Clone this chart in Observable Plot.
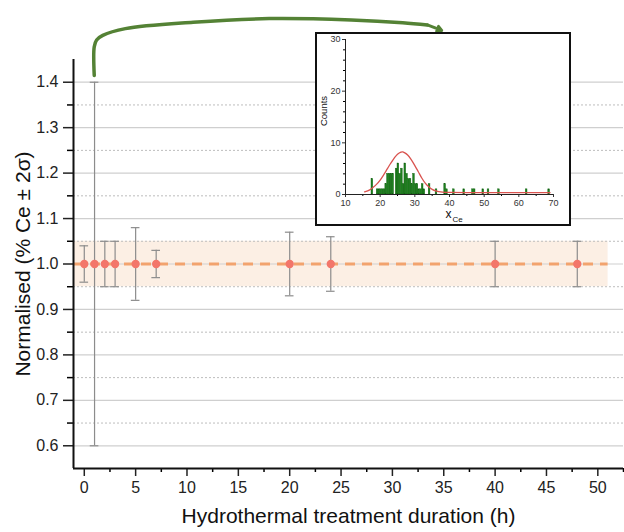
<!DOCTYPE html>
<html>
<head>
<meta charset="utf-8">
<script src="https://cdn.jsdelivr.net/npm/d3@7"></script>
<script src="https://cdn.jsdelivr.net/npm/@observablehq/plot@0.6"></script>
<style>
  html, body { margin: 0; padding: 0; background: #fff; }
  #wrap { position: relative; width: 624px; height: 532px; }
  #inset { position: absolute; left: 315px; top: 32px; width: 256px; height: 194px; box-sizing: border-box; border: 2px solid #111; background: #fff; }
  #inset svg { display: block; }
</style>
</head>
<body>
<div id="wrap"><div id="main"></div><div id="inset"></div></div>
<script>
// ---- main chart data ----
const hours = [0, 1, 2, 3, 5, 7, 20, 24, 40, 48];
const normValue = [1, 1, 1, 1, 1, 1, 1, 1, 1, 1];
const errLow  = [0.96, 0.60, 0.95, 0.95, 0.92, 0.97, 0.93, 0.94, 0.95, 0.95];
const errHigh = [1.04, 1.40, 1.05, 1.05, 1.08, 1.03, 1.07, 1.06, 1.05, 1.05];
const bandX = [-1.05, 51];
const bandY = [0.95, 1.05];
const yMajorTicks = [0.6, 0.7, 0.8, 0.9, 1.0, 1.1, 1.2, 1.3, 1.4];
const yMinorTicks = [0.65, 0.75, 0.85, 0.95, 1.05, 1.15, 1.25, 1.35, 1.45];
const xMajorTicks = [0, 5, 10, 15, 20, 25, 30, 35, 40, 45, 50];
const xMinorTicks = [2.5, 7.5, 12.5, 17.5, 22.5, 27.5, 32.5, 37.5, 42.5, 47.5, 52.5];
// annotation arrow path (data units of main chart)
const arrowX = [0.97, 0.97, 1.2, 1.8, 4, 10.6, 18, 26, 31, 33.4];
const arrowY = [1.415, 1.478, 1.493, 1.503, 1.518, 1.532, 1.540, 1.537, 1.531, 1.526];
const arrowHeadX = [33.4, 34.8];
const arrowHeadY = [1.526, 1.514];

// ---- inset histogram data ----
const binStart = [17.5,19,19.5,20,20.5,21,21.5,22,22.5,23,23.5,24.5,25,25.5,26,26.5,27,27.5,28,28.5,29,29.5,30,30.5,31,31.5,32,32.5,34,36,38.5,39,41,44,46.5,47,49.5,51,54,62,68.5];
const binCount = [3,1,1,1,1,1,2,4,4,4,4,5,6,4,5,2,6,4,3,3,2,4,2,2,1,1,2,1,2,1,2,1,1,1,1,1,1,1,1,1,1];
const binWidth = 0.5;
const fitX = [15.5,17,18,19,20,21,22,23,24,25,26,26.5,27,28,29,30,31,32,33,34,35,36,38,40,45,55,69];
const fitY = [0.5,0.9,1.4,2.0,2.8,3.8,4.9,6.0,7.0,7.8,8.2,8.25,8.1,7.6,6.7,5.6,4.4,3.2,2.2,1.5,1.0,0.7,0.45,0.4,0.35,0.35,0.35];
const insetXTicks = [10, 20, 30, 40, 50, 60, 70];
const insetXMinor = [15, 25, 35, 45, 55, 65];
const insetYTicks = [0, 10, 20, 30];
const insetYMinor = [2, 4, 6, 8, 12, 14, 16, 18, 22, 24, 26, 28];

const FONT = "'Liberation Sans', Arial, Helvetica, sans-serif";

const pts = hours.map((h, i) => ({x: h, y: normValue[i], lo: errLow[i], hi: errHigh[i]}));
const arrowPts = arrowX.map((x, i) => ({x, y: arrowY[i]}));

const main = Plot.plot({
  width: 624, height: 532,
  marginLeft: 73, marginRight: 1, marginTop: 59, marginBottom: 64,
  x: {domain: [-1.05, 52.5]},
  y: {domain: [0.55, 1.45]},
  style: {fontFamily: FONT, background: "white", overflow: "visible"},
  marks: [
    Plot.rect([0], {x1: () => bandX[0], x2: () => bandX[1], y1: () => bandY[0], y2: () => bandY[1], fill: "#fcefe4"}),
    Plot.ruleY(yMinorTicks.slice(0, -1), {stroke: "#bdbdbd", strokeWidth: 1, strokeDasharray: "2,2"}),
    Plot.ruleY(yMajorTicks, {stroke: "#cfcfcf", strokeWidth: 1.2}),
    Plot.ruleX(pts, {x: "x", y1: "lo", y2: "hi", stroke: "#8c8c8c", strokeWidth: 1.2}),
    Plot.ruleY(pts, {y: "lo", x1: d => d.x - 0.42, x2: d => d.x + 0.42, stroke: "#8c8c8c", strokeWidth: 1.2}),
    Plot.ruleY(pts, {y: "hi", x1: d => d.x - 0.42, x2: d => d.x + 0.42, stroke: "#8c8c8c", strokeWidth: 1.2}),
    Plot.ruleY([1], {x1: bandX[0], x2: bandX[1], stroke: "#f2a36e", strokeWidth: 3, strokeDasharray: "10,7"}),
    Plot.dot(pts, {x: "x", y: "y", r: 3.4, fill: "#f3766a", stroke: "#f3766a"}),
    Plot.line(arrowPts, {x: "x", y: "y", curve: "catmull-rom", stroke: "#548235", strokeWidth: 3.5}),
    Plot.arrow([0], {x1: () => arrowHeadX[0], y1: () => arrowHeadY[0], x2: () => arrowHeadX[1], y2: () => arrowHeadY[1], stroke: "#548235", strokeWidth: 3, headLength: 9}),
    Plot.axisY({ticks: yMajorTicks, tickFormat: d3.format(".1f"), tickSize: 10, tickPadding: 5, fontSize: 16, color: "#222", strokeWidth: 1.5, label: null}),
    Plot.axisY({ticks: yMinorTicks.slice(0, -1), tickFormat: () => "", tickSize: 6, strokeWidth: 1.5, label: null}),
    Plot.axisX({ticks: xMajorTicks, tickSize: 8, tickPadding: 5, fontSize: 16, color: "#222", strokeWidth: 1.5, label: null}),
    Plot.axisX({ticks: xMinorTicks, tickFormat: () => "", tickSize: 4, strokeWidth: 1.5, label: null}),
    Plot.ruleX([-1.05], {stroke: "#111", strokeWidth: 2}),
    Plot.ruleY([0.55], {stroke: "#111", strokeWidth: 2}),
    Plot.text(["Normalised (% Ce \u00b1 2\u03c3)"], {text: d => d, frameAnchor: "left", textAnchor: "middle", rotate: -90, dx: -50, fontSize: 21, fill: "#111"}),
    Plot.text(["Hydrothermal treatment duration (h)"], {text: d => d, frameAnchor: "bottom", textAnchor: "middle", dy: 54, fontSize: 21, fill: "#111"})
  ]
});
document.getElementById("main").append(main);

const bins = binStart.map((s, i) => ({x1: s, x2: s + binWidth, n: binCount[i]}));
const fit = fitX.map((x, i) => ({x, y: fitY[i]}));

const inset = Plot.plot({
  width: 252, height: 190,
  marginLeft: 28, marginRight: 16, marginTop: 5, marginBottom: 30,
  x: {domain: [10, 70]},
  y: {domain: [0, 30]},
  style: {fontFamily: FONT, background: "white", overflow: "visible"},
  marks: [
    Plot.rectY(bins, {x1: "x1", x2: "x2", y: "n", fill: "#1d7f1d", stroke: "#0f5f0f", strokeWidth: 0.4, inset: 0}),
    Plot.line(fit, {x: "x", y: "y", curve: "catmull-rom", stroke: "#d9534f", strokeWidth: 1.3}),
    Plot.axisX({ticks: insetXTicks, tickSize: 3, tickPadding: 2, fontSize: 9, color: "#333", label: null}),
    Plot.axisX({ticks: insetXMinor, tickFormat: () => "", tickSize: 2, label: null}),
    Plot.axisY({ticks: insetYTicks, tickSize: 3, tickPadding: 2, fontSize: 9, color: "#333", label: null}),
    Plot.axisY({ticks: insetYMinor, tickFormat: () => "", tickSize: 2, label: null}),
    Plot.ruleX([10], {stroke: "#222", strokeWidth: 1}),
    Plot.ruleY([0], {stroke: "#222", strokeWidth: 1}),
    Plot.text(["Counts"], {text: d => d, frameAnchor: "left", textAnchor: "middle", rotate: -90, dx: -22, dy: -6, fontSize: 9.5, fill: "#111"}),
    Plot.text(["x"], {text: d => d, frameAnchor: "bottom", textAnchor: "middle", dy: 23, dx: -1, fontSize: 12, fill: "#111"}),
    Plot.text(["Ce"], {text: d => d, frameAnchor: "bottom", dy: 27, dx: 3, textAnchor: "start", fontSize: 8, fill: "#111"})
  ]
});
document.getElementById("inset").append(inset);
</script>
</body>
</html>
